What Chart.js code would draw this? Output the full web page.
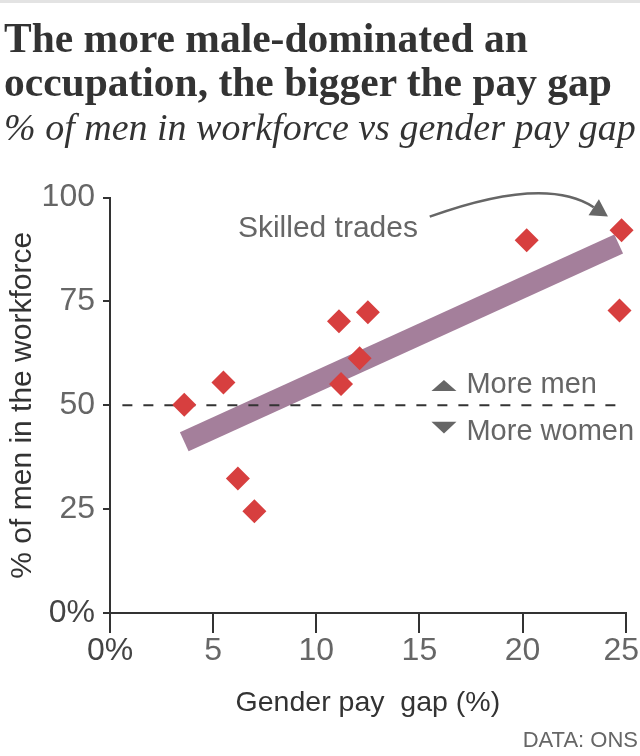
<!DOCTYPE html>
<html><head><meta charset="utf-8">
<script src="https://cdn.jsdelivr.net/npm/chart.js@4.4.1/dist/chart.umd.min.js"></script>
<style>
html,body{margin:0;padding:0;background:#fff;width:640px;height:756px;overflow:hidden;}
#wrap{position:relative;width:640px;height:756px;}
canvas{position:absolute;left:0;top:0;}
#topline{position:absolute;left:0;top:0;width:640px;height:3px;background:#e3e3e3;}
.t{position:absolute;left:4px;white-space:nowrap;color:#333;font-family:'Liberation Serif','Times New Roman',serif;}
.h{font-weight:bold;font-size:41.5px;line-height:41.5px;}
.s{font-style:italic;font-size:38px;line-height:38px;}
#src{position:absolute;right:2px;top:729px;font-family:'Liberation Sans',Arial,sans-serif;font-size:22px;line-height:22px;color:#666;white-space:nowrap;}
</style></head>
<body>
<div id="wrap">
<canvas id="c" width="640" height="756"></canvas>
<div id="topline"></div>
<div class="t h" style="top:18px">The more male-dominated an</div>
<div class="t h" style="top:62px">occupation, the bigger the pay gap</div>
<div class="t s" style="top:108px">% of men in workforce vs gender pay gap</div>
<div id="src">DATA: ONS</div>
</div>
<script>
// ---- data ----
const payGap   = [3.6, 5.5, 6.2, 7.0, 11.1, 11.2, 12.1, 12.5, 20.2, 24.8, 24.7];
const menShare = [50.1, 55.5, 32.4, 24.5, 70.2, 55.1, 61.3, 72.4, 89.7, 92.1, 72.8];
const trendX = [3.6, 24.66];
const trendY = [41.2, 88.8];
const parityX = [0.6, 25];
const parityY = [50, 50];
const xTickValues = [0, 5, 10, 15, 20, 25];
const xTickLabels = ['0%', '5', '10', '15', '20', '25 '];
const yTickValues = [0, 25, 50, 75, 100];
const yTickLabels = ['0%', '25', '50', '75', '100'];
const xTitle = 'Gender pay  gap (%)';
const yTitle = '% of men in the workforce';
const labelSkilled = 'Skilled trades';
const labelMen = 'More men';
const labelWomen = 'More women';
// annotation anchors in data units
const skilledPos = [6.2, 90.6];
const arrowStart = [15.5, 95.38];
const arrowCtrl = [21.08, 105.4];
const arrowEnd = [23.45, 97.67];
const arrowTip = [24.14, 95.45];
const menPos = [17.28, 52.9];
const womenPos = [17.28, 41.6];

const SANS = "'Liberation Sans', Arial, sans-serif";

const zip = (xs, ys) => xs.map((v, i) => ({x: v, y: ys[i]}));

const annot = {
  id: 'annot',
  afterDatasetsDraw(chart) {
    const {ctx} = chart;
    const X = chart.scales.x, Y = chart.scales.y;
    const px = p => [X.getPixelForValue(p[0]), Y.getPixelForValue(p[1])];
    ctx.save();
    ctx.fillStyle = '#666';
    ctx.strokeStyle = '#666';
    ctx.textBaseline = 'alphabetic';
    ctx.textAlign = 'left';
    ctx.font = '30px ' + SANS;
    let p = px(skilledPos);
    ctx.fillText(labelSkilled, p[0], p[1]);
    const s = px(arrowStart), c = px(arrowCtrl), e = px(arrowEnd), t = px(arrowTip);
    ctx.lineWidth = 2.5;
    ctx.beginPath();
    ctx.moveTo(s[0], s[1]);
    ctx.quadraticCurveTo(c[0], c[1], e[0], e[1]);
    ctx.stroke();
    const dx = t[0] - e[0], dy = t[1] - e[1];
    const len = Math.hypot(dx, dy);
    const nx = -dy / len, ny = dx / len, hw = 9.5;
    ctx.beginPath();
    ctx.moveTo(t[0], t[1]);
    ctx.lineTo(e[0] + nx * hw, e[1] + ny * hw);
    ctx.lineTo(e[0] - nx * hw, e[1] - ny * hw);
    ctx.closePath();
    ctx.fill();
    ctx.font = '29px ' + SANS;
    p = px(menPos);
    ctx.fillText(labelMen, p[0], p[1]);
    ctx.beginPath();
    ctx.moveTo(p[0] - 35, p[1] - 2.3);
    ctx.lineTo(p[0] - 10, p[1] - 2.3);
    ctx.lineTo(p[0] - 22.5, p[1] - 13.3);
    ctx.closePath();
    ctx.fill();
    p = px(womenPos);
    ctx.fillText(labelWomen, p[0], p[1]);
    ctx.beginPath();
    ctx.moveTo(p[0] - 35, p[1] - 18.3);
    ctx.lineTo(p[0] - 10, p[1] - 18.3);
    ctx.lineTo(p[0] - 22.5, p[1] - 6.7);
    ctx.closePath();
    ctx.fill();
    ctx.restore();
  }
};

new Chart(document.getElementById('c'), {
  type: 'scatter',
  data: {
    datasets: [
      {
        label: 'Occupations',
        data: zip(payGap, menShare),
        pointStyle: 'rectRot',
        pointRadius: 12,
        pointHoverRadius: 12,
        pointBackgroundColor: '#d73f3f',
        pointBorderWidth: 0,
        borderWidth: 0,
        showLine: false,
        clip: false,
        order: 0
      },
      {
        type: 'line',
        label: 'Parity',
        data: zip(parityX, parityY),
        borderColor: '#333',
        borderWidth: 2,
        borderDash: [10, 11],
        pointRadius: 0,
        fill: false,
        clip: false,
        order: 1
      },
      {
        type: 'line',
        label: 'Trend',
        data: zip(trendX, trendY),
        borderColor: '#a47f9b',
        borderWidth: 21,
        borderCapStyle: 'butt',
        pointRadius: 0,
        fill: false,
        clip: false,
        order: 2
      }
    ]
  },
  options: {
    responsive: false,
    animation: false,
    devicePixelRatio: 1,
    layout: {padding: {top: 197.5, right: 14.3, bottom: 0, left: 0}},
    plugins: {legend: {display: false}, tooltip: {enabled: false}},
    events: [],
    scales: {
      x: {
        type: 'linear', min: 0, max: 25,
        afterBuildTicks: s => { s.ticks = xTickValues.map(v => ({value: v})); },
        ticks: {
          padding: 2, maxRotation: 0, autoSkip: false,
          color: c => (c.tick && c.tick.value === 0) ? '#444' : '#666',
          font: {family: SANS, size: 32, lineHeight: 1.0},
          callback: v => xTickLabels[xTickValues.indexOf(v)]
        },
        grid: {drawOnChartArea: false, drawTicks: true, tickLength: 20, color: '#333', lineWidth: 2},
        border: {display: true, color: '#333', width: 2},
        title: {display: true, text: xTitle, color: '#333', font: {family: SANS, size: 28.5, lineHeight: 1.2}, padding: {top: 0, bottom: 36}},
        afterFit: s => { s.height = 143; s.paddingLeft = 0; s.paddingRight = 0; }
      },
      y: {
        type: 'linear', min: 0, max: 100,
        afterBuildTicks: s => { s.ticks = yTickValues.map(v => ({value: v})); },
        ticks: {
          padding: 8,
          color: c => (c.tick && c.tick.value === 0) ? '#444' : '#666',
          font: {family: SANS, size: 32, lineHeight: 1.0},
          callback: v => yTickLabels[yTickValues.indexOf(v)]
        },
        grid: {drawOnChartArea: false, drawTicks: true, tickLength: 7, color: '#333', lineWidth: 2},
        border: {display: true, color: '#333', width: 2},
        title: {display: true, text: yTitle, color: '#333', font: {family: SANS, size: 30, lineHeight: 1.2}, padding: {top: 5, bottom: 0}},
        afterFit: s => { s.width = 110; s.paddingTop = 0; s.paddingBottom = 0; }
      }
    }
  },
  plugins: [annot]
});
</script>
</body></html>
